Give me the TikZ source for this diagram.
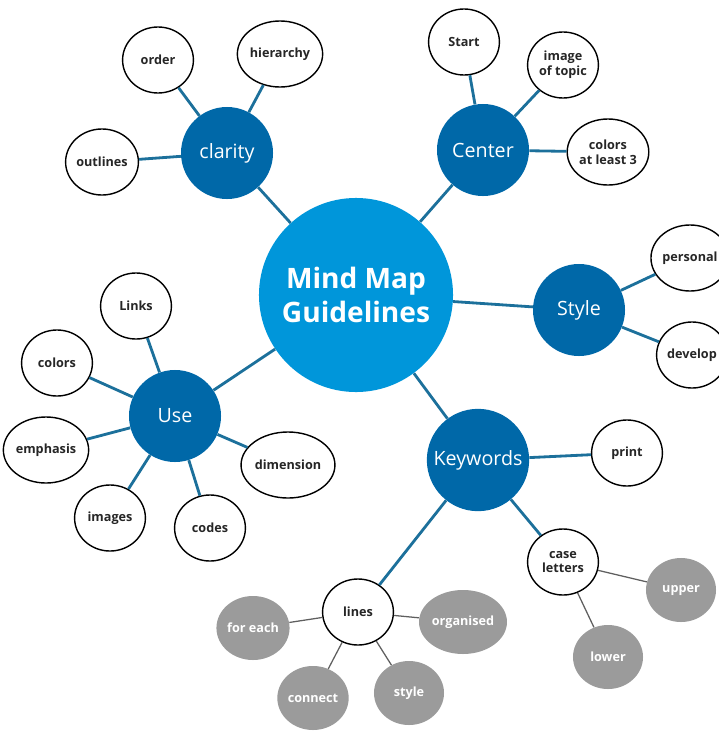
\documentclass[tikz,border=0pt]{standalone}
\usepackage{fontspec}
\setmainfont{Open Sans}
\usetikzlibrary{shapes.geometric}

\definecolor{mainblue}{RGB}{0,150,218}
\definecolor{darkblue}{RGB}{0,104,168}
\definecolor{linkblue}{RGB}{28,112,155}
\definecolor{leafgray}{RGB}{155,155,155}
\definecolor{wiregray}{RGB}{95,95,95}

\tikzset{
    hub/.style={circle, fill=mainblue, text=white, minimum size=4.85cm, align=center,
        font=\fontsize{20}{24}\selectfont\bfseries},
    topic/.style={circle, fill=darkblue, text=white, minimum size=2.3cm,
        font=\fontsize{14}{16}\selectfont},
    leaf/.style={ellipse, draw=black, line width=1pt, fill=white, text=black!85,
        minimum width=1.77cm, minimum height=1.65cm, inner sep=0pt, align=center,
        font=\fontsize{9}{10.5}\selectfont\bfseries},
    sub/.style={ellipse, fill=leafgray, text=white, minimum width=1.75cm,
        minimum height=1.6cm, inner sep=0pt, font=\fontsize{9}{10.5}\selectfont\bfseries},
    link/.style={draw=linkblue, line width=2pt},
    wire/.style={draw=wiregray, line width=0.9pt}
}

\begin{document}
\begin{tikzpicture}[x=0.025cm, y=-0.025cm]

    \useasboundingbox (0,0) rectangle (718,731);

    % centre and main branches
    \node (main)     at (356,295) [hub]   {Mind Map\\Guidelines};
    \node (clarity)  at (227,153) [topic] {clarity};
    \node (center)   at (483,150) [topic] {Center};
    \node (style)    at (579,310) [topic] {Style};
    \node (keywords) at (478,460) [topic] {Keywords};
    \node (use)      at (175,416) [topic] {Use};

    \foreach \t in {clarity,center,style,keywords,use} \draw [link] (main) -- (\t);

    % leaves
    \foreach \p/\n/\txt in {(158,60)/order/order, (280,54)/hierarchy/hierarchy, (102,162)/outlines/outlines}{
        \node (\n) at \p [leaf] {\txt};
        \draw [link] (clarity) -- (\n);
    }
    \foreach \p/\n/\txt in {(464,42)/start/Start, (563,65)/image/{image\\of topic}, (608,152)/colorsthree/{colors\\at least 3}}{
        \node (\n) at \p [leaf] {\txt};
        \draw [link] (center) -- (\n);
    }
    \foreach \p/\n/\txt in {(690,258)/personal/personal, (692,355)/develop/develop}{
        \node (\n) at \p [leaf] {\txt};
        \draw [link] (style) -- (\n);
    }
    \foreach \p/\n/\txt in {(136,306)/links/Links, (57,363)/colors/colors, (46,450)/emphasis/emphasis,
                            (110,518)/images/images, (210,528)/codes/codes, (288,465)/dimension/dimension}{
        \node (\n) at \p [leaf] {\txt};
        \draw [link] (use) -- (\n);
    }
    \foreach \p/\n/\txt in {(627,453)/print/print, (563,562)/case/{case\\letters}, (358,612)/lines/lines}{
        \node (\n) at \p [leaf] {\txt};
        \draw [link] (keywords) -- (\n);
    }

    % grey sub-leaves
    \foreach \p/\n/\txt in {(681,590)/upper/upper, (608,657)/lower/lower}{
        \node (\n) at \p [sub] {\txt};
        \draw [wire] (case) -- (\n);
    }
    \foreach \p/\n/\txt in {(253,628)/foreach/for each, (463,622)/organised/organised,
                            (313,698)/connect/connect, (409,693)/stylel/style}{
        \node (\n) at \p [sub] {\txt};
        \draw [wire] (lines) -- (\n);
    }

\end{tikzpicture}
\end{document}
